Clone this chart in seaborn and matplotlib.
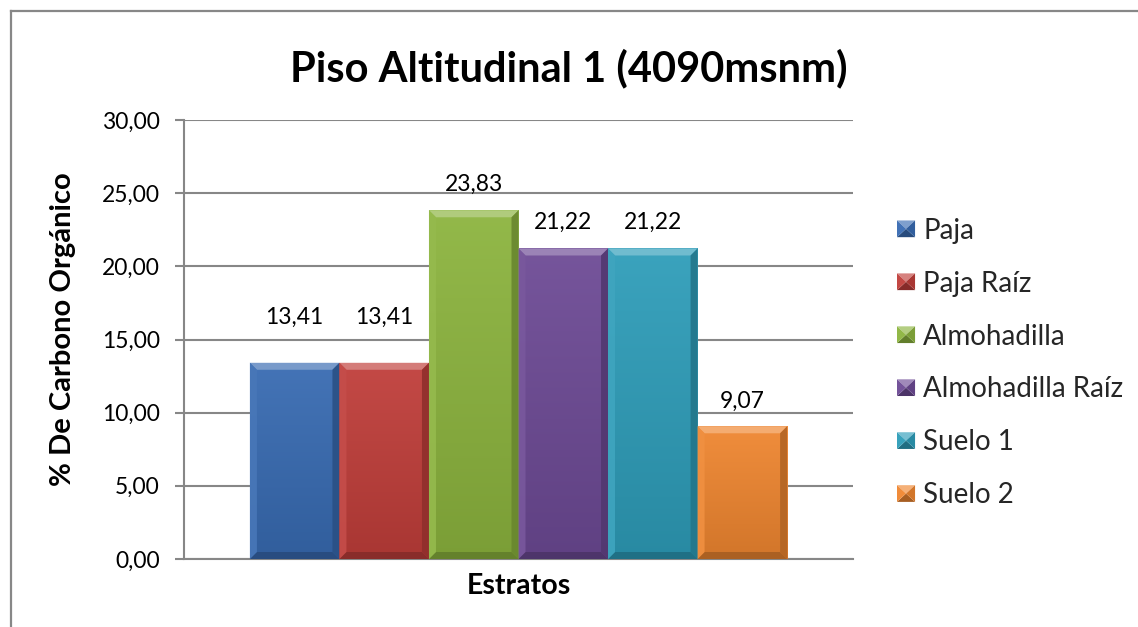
import numpy as np
import pandas as pd
import matplotlib
matplotlib.use("Agg")
import matplotlib.pyplot as plt
import seaborn as sns
from matplotlib.patches import Polygon, Patch
from matplotlib.lines import Line2D
from matplotlib.legend_handler import HandlerPatch
from matplotlib.colors import to_rgb

# Organic carbon by stratum, altitude level 1
estratos = ["Paja", "Paja Raíz", "Almohadilla", "Almohadilla Raíz", "Suelo 1", "Suelo 2"]
carbono = [13.41, 13.41, 23.83, 21.22, 21.22, 9.07]
colores = ["#386BB2", "#C03E3A", "#8CB43E", "#6D4A95", "#2E9DB9", "#EF8630"]
y_ticks = [0, 5, 10, 15, 20, 25, 30]
# vertical gap (points) between bar top and its value label
desfase_etiqueta = [33, 33, 19, 19, 19, 18]

sns.set_theme(style="white")
plt.rcParams["font.family"] = ["Lato", "DejaVu Sans"]

GRIS = "#878787"
W, H = 1138, 627


def mezcla(c, otro, t):
    c = np.array(to_rgb(c))
    o = np.array(to_rgb(otro))
    return tuple(c + (o - c) * t)


df = pd.DataFrame({"grupo": ["Estratos"] * len(estratos),
                   "estrato": estratos,
                   "carbono": carbono})

fig = plt.figure(figsize=(W / 100, H / 100), dpi=100)
ax = fig.add_axes([184 / W, 1 - 559 / H, 669 / W, 439 / H])

sns.barplot(data=df, x="grupo", y="carbono", hue="estrato", hue_order=estratos,
            palette=colores, width=0.803, saturation=1, errorbar=None,
            legend=False, ax=ax, zorder=3)

ax.set_xlim(-0.5, 0.5)
ax.set_ylim(0, 30)

# pixel sizes converted to data units for the bevel
px_x = 1.0 / 669
px_y = 30.0 / 439
bx, by = 7 * px_x, 7 * px_y

for cont, col in zip(ax.containers, colores):
    for bar in cont:
        x, w, h = bar.get_x(), bar.get_width(), bar.get_height()
        bar.set_edgecolor("none")
        # soft vertical shading of the face
        grad = np.linspace(0, 1, 64)[:, None]
        top = np.array(mezcla(col, "white", 0.06))
        bot = np.array(mezcla(col, "black", 0.12))
        img = top + (bot - top) * grad[..., None]
        img = np.repeat(img, 2, axis=1)
        im = ax.imshow(img, extent=(x, x + w, 0, h), aspect="auto",
                       origin="upper", zorder=3.5, interpolation="bilinear")
        im.set_clip_path(bar)
        bevels = [
            ([(x, h), (x + w, h), (x + w - bx, h - by), (x + bx, h - by)], mezcla(col, "white", 0.35)),
            ([(x, 0), (x + w, 0), (x + w - bx, by), (x + bx, by)], mezcla(col, "black", 0.30)),
            ([(x, 0), (x, h), (x + bx, h - by), (x + bx, by)], mezcla(col, "white", 0.08)),
            ([(x + w, 0), (x + w, h), (x + w - bx, h - by), (x + w - bx, by)], mezcla(col, "black", 0.25)),
        ]
        for pts, c in bevels:
            ax.add_patch(Polygon(pts, closed=True, facecolor=c, edgecolor="none",
                                 zorder=4, alpha=0.9))

# value labels above each bar
for cont, off in zip(ax.containers, desfase_etiqueta):
    for bar in cont:
        h = bar.get_height()
        ax.annotate(f"{h:.2f}".replace(".", ","),
                    (bar.get_x() + bar.get_width() / 2, h),
                    xytext=(0, off), textcoords="offset points",
                    ha="center", va="center", fontsize=16.5, color="black",
                    zorder=6)

ax.set_xlim(-0.5, 0.5)
ax.set_ylim(0, 30)
ax.set_yticks(y_ticks)
ax.set_yticklabels([f"{v:.2f}".replace(".", ",") for v in y_ticks])
ax.tick_params(axis="y", which="major", length=6.5, width=1.5, color=GRIS,
               labelsize=16.5, labelcolor="black", pad=11, left=True)
ax.tick_params(axis="x", bottom=False, labelbottom=False)
ax.yaxis.grid(True, color=GRIS, linewidth=1.5, zorder=0)
ax.set_axisbelow(True)
for s in ["top", "right"]:
    ax.spines[s].set_visible(False)
for s in ["left", "bottom"]:
    ax.spines[s].set_color(GRIS)
    ax.spines[s].set_linewidth(1.5)

ax.set_ylabel("% De Carbono Orgánico", fontsize=21, fontweight="bold", color="black")
ax.yaxis.label.set_va("center")
ax.yaxis.set_label_coords(-121 / 669, 0.5 + 10 / 439)
ax.set_xlabel("Estratos", fontsize=20.5, fontweight="bold", color="black")
ax.xaxis.label.set_va("center")
ax.xaxis.set_label_coords(0.5, -27 / 439)

fig.text(0.5, 1 - 68 / H, "Piso Altitudinal 1 (4090msnm)", ha="center", va="center",
         fontsize=30, fontweight="bold", color="black")


class HandlerPiramide(HandlerPatch):
    def create_artists(self, legend, orig_handle, xdescent, ydescent, width,
                       height, fontsize, trans):
        col = orig_handle.get_facecolor()[:3]
        x0, y0 = -xdescent, -ydescent
        x1, y1 = x0 + width, y0 + height
        cx, cy = (x0 + x1) / 2, (y0 + y1) / 2
        tris = [
            ([(x0, y1), (x1, y1), (cx, cy)], mezcla(col, "white", 0.35)),
            ([(x0, y0), (x1, y0), (cx, cy)], mezcla(col, "black", 0.30)),
            ([(x0, y0), (x0, y1), (cx, cy)], mezcla(col, "white", 0.05)),
            ([(x1, y0), (x1, y1), (cx, cy)], mezcla(col, "black", 0.12)),
        ]
        return [Polygon(pts, closed=True, facecolor=c, edgecolor="none",
                        transform=trans) for pts, c in tris]


handles = [Patch(facecolor=c, label=e) for c, e in zip(colores, estratos)]
leg = fig.legend(handles=handles, loc="center left",
                 bbox_to_anchor=(897 / W, 1 - 363 / H), frameon=False,
                 fontsize=20, handlelength=0.65, handleheight=0.55,
                 handletextpad=0.3, labelspacing=0.97, borderpad=0,
                 borderaxespad=0,
                 handler_map={Patch: HandlerPiramide()})

# chart frame (left and top edges)
fig.add_artist(Line2D([10.5 / W, 10.5 / W], [0, 1 - 11 / H], transform=fig.transFigure,
                      color=GRIS, linewidth=1.6, solid_capstyle="projecting"))
fig.add_artist(Line2D([10.5 / W, 1.0], [1 - 11 / H, 1 - 11 / H], transform=fig.transFigure,
                      color=GRIS, linewidth=1.6, solid_capstyle="projecting"))

fig.savefig("out.png", dpi=100)
